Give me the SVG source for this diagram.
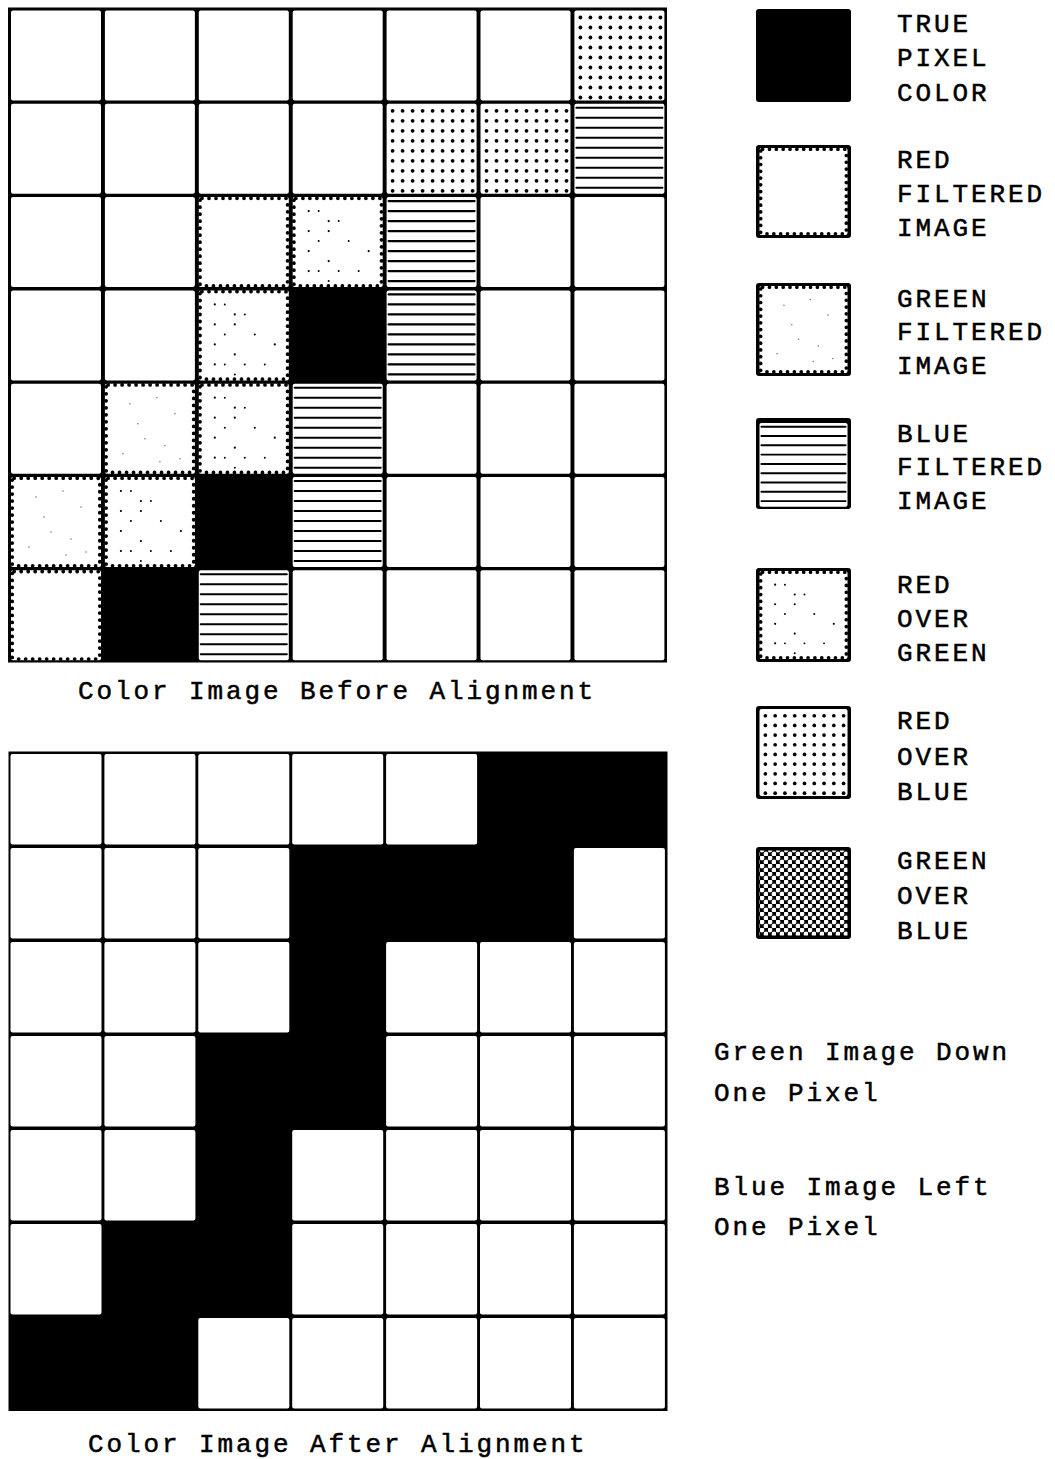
<svg xmlns="http://www.w3.org/2000/svg" xmlns:xlink="http://www.w3.org/1999/xlink" width="1055" height="1459" viewBox="0 0 1055 1459">
<style>
.t{font-family:"Liberation Mono","DejaVu Sans Mono",monospace;font-size:26px;letter-spacing:2.9px;fill:#000;stroke:#000;stroke-width:0.5}
.bg{fill:#000}
.w{fill:#fff}
.sc{fill:none;stroke:#000;stroke-width:3.8;stroke-linecap:round;stroke-dasharray:0 7}
.bl{stroke:#000;stroke-width:2.1;stroke-linecap:round}
.dk{fill:#000}
.gr{fill:#777}
</style>
<defs>
<pattern id="pGB" width="8" height="8" patternUnits="userSpaceOnUse">
<rect width="8" height="8" fill="#000"/>
<circle cx="2" cy="2" r="2.4" fill="#fff"/>
<circle cx="6" cy="6" r="2.4" fill="#fff"/>
</pattern>
<g id="tW"><rect width="90" height="90" rx="2" class="w"/></g>
<g id="tR"><rect width="90" height="90" rx="2" class="w"/><rect x="1.2" y="1.2" width="87.6" height="87.6" rx="2" class="sc"/></g>
<g id="tG"><use xlink:href="#tR"/>
<circle cx="25" cy="20" r="0.8" class="gr"/><circle cx="52" cy="14" r="0.8" class="gr"/><circle cx="70" cy="30" r="0.8" class="gr"/>
<circle cx="40" cy="55" r="0.8" class="gr"/><circle cx="60" cy="62" r="0.8" class="gr"/><circle cx="18" cy="70" r="0.8" class="gr"/>
<circle cx="33" cy="40" r="0.8" class="gr"/><circle cx="75" cy="75" r="0.8" class="gr"/><circle cx="55" cy="78" r="0.8" class="gr"/>
</g>
<g id="tRG"><use xlink:href="#tR"/>
<circle cx="16" cy="14" r="1.1" class="dk"/><circle cx="26" cy="14" r="1" class="dk"/><circle cx="36" cy="24" r="1.1" class="dk"/>
<circle cx="16" cy="34" r="1.1" class="dk"/><circle cx="26" cy="44" r="1" class="dk"/><circle cx="36" cy="34" r="1.1" class="dk"/>
<circle cx="46" cy="24" r="1" class="dk"/><circle cx="16" cy="54" r="1.1" class="dk"/><circle cx="36" cy="64" r="1.1" class="dk"/>
<circle cx="26" cy="74" r="1" class="dk"/><circle cx="16" cy="74" r="1.1" class="dk"/><circle cx="46" cy="74" r="1" class="dk"/>
<circle cx="56" cy="44" r="1" class="dk"/><circle cx="76" cy="54" r="1.1" class="dk"/><circle cx="66" cy="74" r="1" class="dk"/>
<circle cx="36" cy="84" r="1" class="dk"/>
</g>
<g id="tB"><rect width="90" height="90" rx="2" class="w"/>
<line x1="2" y1="4" x2="88" y2="4" class="bl"/><line x1="2" y1="14" x2="88" y2="14" class="bl"/>
<line x1="2" y1="24" x2="88" y2="24" class="bl"/><line x1="2" y1="34" x2="88" y2="34" class="bl"/>
<line x1="2" y1="44" x2="88" y2="44" class="bl"/><line x1="2" y1="54" x2="88" y2="54" class="bl"/>
<line x1="2" y1="64" x2="88" y2="64" class="bl"/><line x1="2" y1="74" x2="88" y2="74" class="bl"/>
<line x1="2" y1="84" x2="88" y2="84" class="bl"/>
</g>
<g id="dRow">
<circle cx="6" cy="0" r="1.9"/><circle cx="16" cy="0" r="1.9"/><circle cx="26" cy="0" r="1.9"/>
<circle cx="36" cy="0" r="1.9"/><circle cx="46" cy="0" r="1.9"/><circle cx="56" cy="0" r="1.9"/>
<circle cx="66" cy="0" r="1.9"/><circle cx="76" cy="0" r="1.9"/><circle cx="86" cy="0" r="1.9"/>
</g>
<g id="tRB"><rect width="90" height="90" rx="2" class="w"/>
<use xlink:href="#dRow" y="7"/><use xlink:href="#dRow" y="17"/><use xlink:href="#dRow" y="27"/>
<use xlink:href="#dRow" y="37"/><use xlink:href="#dRow" y="47"/><use xlink:href="#dRow" y="57"/>
<use xlink:href="#dRow" y="67"/><use xlink:href="#dRow" y="77"/><use xlink:href="#dRow" y="87"/>
</g>
</defs>
<rect width="1055" height="1459" fill="#fff"/>

<g id="grid-before">
<rect x="8" y="7.5" width="659" height="655" class="bg"/>
<use id="b00" xlink:href="#tW" x="11" y="10.5"/><use id="b01" xlink:href="#tW" x="104.9" y="10.5"/><use id="b02" xlink:href="#tW" x="198.8" y="10.5"/><use id="b03" xlink:href="#tW" x="292.7" y="10.5"/><use id="b04" xlink:href="#tW" x="386.6" y="10.5"/><use id="b05" xlink:href="#tW" x="480.5" y="10.5"/><use id="b06" xlink:href="#tRB" x="574.4" y="10.5"/>
<use id="b10" xlink:href="#tW" x="11" y="103.8"/><use id="b11" xlink:href="#tW" x="104.9" y="103.8"/><use id="b12" xlink:href="#tW" x="198.8" y="103.8"/><use id="b13" xlink:href="#tW" x="292.7" y="103.8"/><use id="b14" xlink:href="#tRB" x="386.6" y="103.8"/><use id="b15" xlink:href="#tRB" x="480.5" y="103.8"/><use id="b16" xlink:href="#tB" x="574.4" y="103.8"/>
<use id="b20" xlink:href="#tW" x="11" y="197.1"/><use id="b21" xlink:href="#tW" x="104.9" y="197.1"/><use id="b22" xlink:href="#tR" x="198.8" y="197.1"/><use id="b23" xlink:href="#tRG" x="292.7" y="197.1"/><use id="b24" xlink:href="#tB" x="386.6" y="197.1"/><use id="b25" xlink:href="#tW" x="480.5" y="197.1"/><use id="b26" xlink:href="#tW" x="574.4" y="197.1"/>
<use id="b30" xlink:href="#tW" x="11" y="290.4"/><use id="b31" xlink:href="#tW" x="104.9" y="290.4"/><use id="b32" xlink:href="#tRG" x="198.8" y="290.4"/><use id="b34" xlink:href="#tB" x="386.6" y="290.4"/><use id="b35" xlink:href="#tW" x="480.5" y="290.4"/><use id="b36" xlink:href="#tW" x="574.4" y="290.4"/>
<use id="b40" xlink:href="#tW" x="11" y="383.7"/><use id="b41" xlink:href="#tG" x="104.9" y="383.7"/><use id="b42" xlink:href="#tRG" x="198.8" y="383.7"/><use id="b43" xlink:href="#tB" x="292.7" y="383.7"/><use id="b44" xlink:href="#tW" x="386.6" y="383.7"/><use id="b45" xlink:href="#tW" x="480.5" y="383.7"/><use id="b46" xlink:href="#tW" x="574.4" y="383.7"/>
<use id="b50" xlink:href="#tG" x="11" y="477"/><use id="b51" xlink:href="#tRG" x="104.9" y="477"/><use id="b53" xlink:href="#tB" x="292.7" y="477"/><use id="b54" xlink:href="#tW" x="386.6" y="477"/><use id="b55" xlink:href="#tW" x="480.5" y="477"/><use id="b56" xlink:href="#tW" x="574.4" y="477"/>
<use id="b60" xlink:href="#tR" x="11" y="570.3"/><use id="b62" xlink:href="#tB" x="198.8" y="570.3"/><use id="b63" xlink:href="#tW" x="292.7" y="570.3"/><use id="b64" xlink:href="#tW" x="386.6" y="570.3"/><use id="b65" xlink:href="#tW" x="480.5" y="570.3"/><use id="b66" xlink:href="#tW" x="574.4" y="570.3"/>
</g>
<text id="cap-before" class="t" x="78" y="699">Color Image Before Alignment</text>

<g id="grid-after">
<rect x="8.5" y="751.5" width="659" height="659.5" class="bg"/>
<g class="w">
<rect x="10.5" y="754" width="91" height="90.5" rx="2"/><rect x="104.4" y="754" width="91" height="90.5" rx="2"/><rect x="198.3" y="754" width="91" height="90.5" rx="2"/><rect x="292.2" y="754" width="91" height="90.5" rx="2"/><rect x="386.1" y="754" width="91" height="90.5" rx="2"/>
<rect x="10.5" y="848" width="91" height="90.5" rx="2"/><rect x="104.4" y="848" width="91" height="90.5" rx="2"/><rect x="198.3" y="848" width="91" height="90.5" rx="2"/><rect x="573.9" y="848" width="91" height="90.5" rx="2"/>
<rect x="10.5" y="942" width="91" height="90.5" rx="2"/><rect x="104.4" y="942" width="91" height="90.5" rx="2"/><rect x="198.3" y="942" width="91" height="90.5" rx="2"/><rect x="386.1" y="942" width="91" height="90.5" rx="2"/><rect x="480" y="942" width="91" height="90.5" rx="2"/><rect x="573.9" y="942" width="91" height="90.5" rx="2"/>
<rect x="10.5" y="1036" width="91" height="90.5" rx="2"/><rect x="104.4" y="1036" width="91" height="90.5" rx="2"/><rect x="386.1" y="1036" width="91" height="90.5" rx="2"/><rect x="480" y="1036" width="91" height="90.5" rx="2"/><rect x="573.9" y="1036" width="91" height="90.5" rx="2"/>
<rect x="10.5" y="1130" width="91" height="90.5" rx="2"/><rect x="104.4" y="1130" width="91" height="90.5" rx="2"/><rect x="292.2" y="1130" width="91" height="90.5" rx="2"/><rect x="386.1" y="1130" width="91" height="90.5" rx="2"/><rect x="480" y="1130" width="91" height="90.5" rx="2"/><rect x="573.9" y="1130" width="91" height="90.5" rx="2"/>
<rect x="10.5" y="1224" width="91" height="90.5" rx="2"/><rect x="292.2" y="1224" width="91" height="90.5" rx="2"/><rect x="386.1" y="1224" width="91" height="90.5" rx="2"/><rect x="480" y="1224" width="91" height="90.5" rx="2"/><rect x="573.9" y="1224" width="91" height="90.5" rx="2"/>
<rect x="198.3" y="1318" width="91" height="90.5" rx="2"/><rect x="292.2" y="1318" width="91" height="90.5" rx="2"/><rect x="386.1" y="1318" width="91" height="90.5" rx="2"/><rect x="480" y="1318" width="91" height="90.5" rx="2"/><rect x="573.9" y="1318" width="91" height="90.5" rx="2"/>
</g>
</g>
<text id="cap-after" class="t" x="88" y="1452">Color Image After Alignment</text>

<g id="legend-true">
<rect x="756" y="9" width="95" height="93" rx="3" class="bg"/>
<text class="t" x="897" y="32">TRUE</text><text class="t" x="897" y="66">PIXEL</text><text class="t" x="897" y="101">COLOR</text>
</g>
<g id="legend-red">
<rect x="756" y="145" width="95" height="93" rx="3" class="bg"/>
<use xlink:href="#tR" transform="translate(759.5,148) scale(0.978,0.967)"/>
<text class="t" x="897" y="168">RED</text><text class="t" x="897" y="202">FILTERED</text><text class="t" x="897" y="236">IMAGE</text>
</g>
<g id="legend-green">
<rect x="756" y="283" width="95" height="93" rx="3" class="bg"/>
<use xlink:href="#tG" transform="translate(759.5,286) scale(0.978,0.967)"/>
<text class="t" x="897" y="307">GREEN</text><text class="t" x="897" y="340">FILTERED</text><text class="t" x="897" y="374">IMAGE</text>
</g>
<g id="legend-blue">
<rect x="756" y="418" width="95" height="91" rx="3" class="bg"/>
<use xlink:href="#tB" transform="translate(759.5,423) scale(0.978,0.93)"/>
<text class="t" x="897" y="442">BLUE</text><text class="t" x="897" y="475">FILTERED</text><text class="t" x="897" y="509">IMAGE</text>
</g>
<g id="legend-red-over-green">
<rect x="756" y="568" width="95" height="94" rx="3" class="bg"/>
<use xlink:href="#tRG" transform="translate(759.5,571) scale(0.978,0.978)"/>
<text class="t" x="897" y="593">RED</text><text class="t" x="897" y="627">OVER</text><text class="t" x="897" y="661">GREEN</text>
</g>
<g id="legend-red-over-blue">
<rect x="756" y="706" width="95" height="93" rx="3" class="bg"/>
<use xlink:href="#tRB" transform="translate(759.5,709) scale(0.978,0.967)"/>
<text class="t" x="897" y="729">RED</text><text class="t" x="897" y="765">OVER</text><text class="t" x="897" y="800">BLUE</text>
</g>
<g id="legend-green-over-blue">
<rect x="756" y="847" width="95" height="92" rx="3" class="bg"/>
<rect x="759.5" y="850.5" width="88" height="85" fill="url(#pGB)"/>
<text class="t" x="897" y="869">GREEN</text><text class="t" x="897" y="904">OVER</text><text class="t" x="897" y="939">BLUE</text>
</g>

<g id="notes">
<text class="t" x="714" y="1060">Green Image Down</text>
<text class="t" x="714" y="1101">One Pixel</text>
<text class="t" x="714" y="1195">Blue Image Left</text>
<text class="t" x="714" y="1235">One Pixel</text>
</g>
<g id="connectors"/>
</svg>
